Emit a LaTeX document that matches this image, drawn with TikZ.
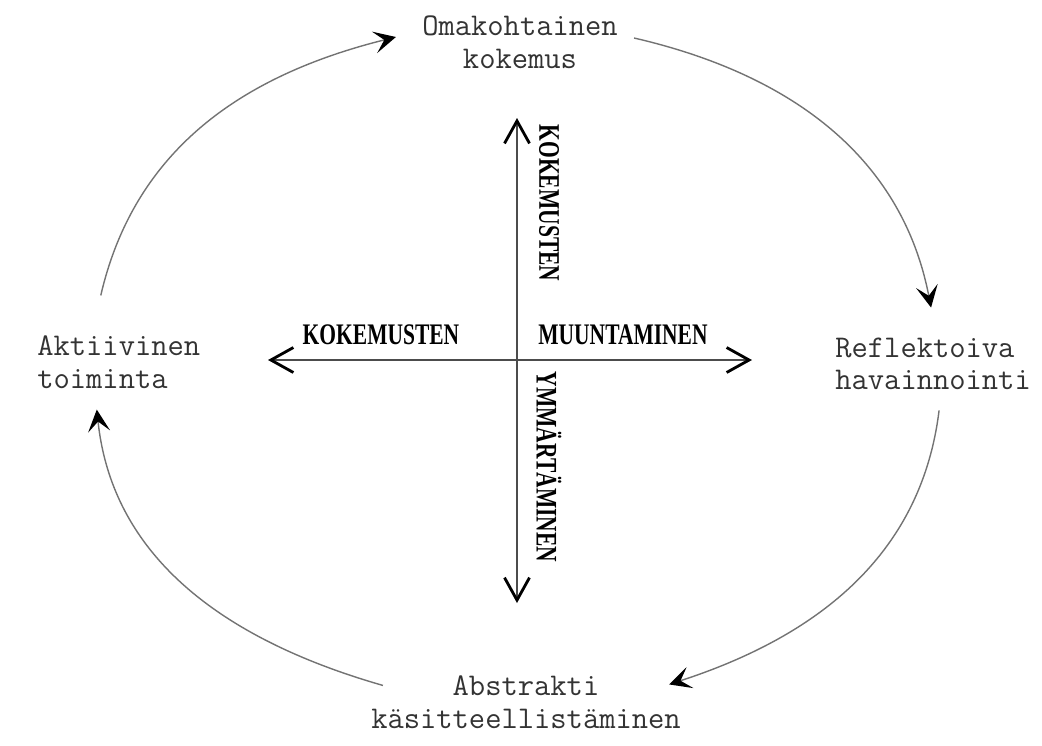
\documentclass[tikz,border=0pt]{standalone}
\usepackage{fontspec}
\newfontfamily\axisfont{Liberation Serif}[FakeStretch=0.72]
\usepackage{tikz}
\usetikzlibrary{arrows.meta, positioning}

\begin{document}
\begin{tikzpicture}[
  x=0.02cm, y=0.02cm,
  stage/.style={font=\ttfamily\fontsize{18}{18.5}\selectfont, text=black!80,
                inner sep=0pt},
  axlabel/.style={font=\axisfont\bfseries\fontsize{17}{17}\selectfont,
                  inner sep=0pt},
  cyclearrow/.style={-{Stealth[length=0.44cm, width=0.44cm, inset=0.2cm, color=black]},
                     line width=0.8pt, black!55},
  axarrow/.style={{Straight Barb[length=0.45cm, width=0.5cm, line width=1.6pt, color=black]}-%
                  {Straight Barb[length=0.45cm, width=0.5cm, line width=1.6pt, color=black]},
                  line width=0.7pt, black!70},
]
\useasboundingbox (0,0) rectangle (1042,-745);

% four stages of the cycle
\node[stage, align=center] (oma) at (520,-42) {Omakohtainen\\kokemus};
\node[stage, align=left, anchor=west] (akt) at (37,-362) {Aktiivinen\\toiminta};
\node[stage, align=left, anchor=west] (ref) at (835,-364) {Reflektoiva\\havainnointi};
\node[stage, align=center] (abs) at (526,-702) {Abstrakti\\käsitteellistäminen};

% cross in the middle
\coordinate (axt) at (517,-118);
\coordinate (axb) at (517,-603);
\coordinate (axl) at (268,-360);
\coordinate (axr) at (752,-360);
\draw[axarrow] (axb) -- (axt);
\draw[axarrow] (axl) -- (axr);

\node[axlabel] (kokh) at (381,-335) {KOKEMUSTEN};
\node[axlabel] (muu) at (623,-335) {MUUNTAMINEN};
\node[axlabel, rotate=-90] (kokv) at (549,-203) {KOKEMUSTEN};
\node[axlabel, rotate=-90] (ymm) at (549,-467) {YMMÄRTÄMINEN};

% cycle arrows
\draw[cyclearrow] ([shift={(-18,40)}]akt.north) to[out=77, in=194] ([shift={(-26,5)}]oma.west);
\draw[cyclearrow] ([shift={(16,4)}]oma.east) to[out=-13, in=101] ([shift={(-2,30)}]ref.north);
\draw[cyclearrow] ([shift={(6,-20)}]ref.south) to[out=263, in=18] ([shift={(-12,-9)}]abs.north east);
\draw[cyclearrow] ([shift={(12,-10)}]abs.north west) to[out=164, in=276] ([shift={(-22,-21)}]akt.south);
\end{tikzpicture}
\end{document}
